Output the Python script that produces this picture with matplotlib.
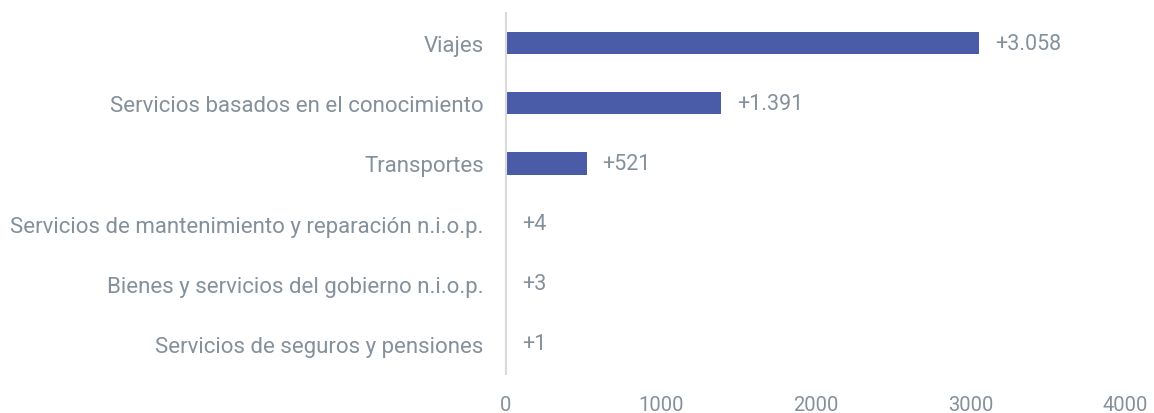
import numpy as np
import matplotlib.pyplot as plt

categorias = ["Viajes", "Servicios basados en el conocimiento", "Transportes",
              "Servicios de mantenimiento y reparación n.i.o.p.",
              "Bienes y servicios del gobierno n.i.o.p.",
              "Servicios de seguros y pensiones"]
valores = [3058, 1391, 521, 4, 3, 1]
etiquetas = ["+3.058", "+1.391", "+521", "+4", "+3", "+1"]
xticks = [0, 1000, 2000, 3000, 4000]

gris = "#84909b"
azul = "#4a5ba8"

plt.rcParams['font.family'] = ['Roboto', 'DejaVu Sans']

fig = plt.figure(figsize=(11.54, 4.14), dpi=100)
ax = fig.add_axes([0.4385, 0.094, 0.5365, 0.872])

y = np.arange(len(categorias))
ax.barh(y, valores, height=0.37, color=azul)
for yi, v, t in zip(y, valores, etiquetas):
    ax.text(v + 100, yi, t, va="center", ha="left", fontsize=15.5, color=gris)

ax.set_ylim(len(categorias) - 0.5, -0.5)
ax.set_xlim(0, 4000)
ax.set_yticks(y)
ax.set_yticklabels(categorias, fontsize=16, color=gris)
ax.set_xticks(xticks)
ax.set_xticklabels([str(t) for t in xticks], fontsize=14.5, color=gris)
ax.tick_params(axis="both", length=0)
ax.tick_params(axis="y", pad=16)
ax.tick_params(axis="x", pad=15)
for s in ["top", "right", "bottom"]:
    ax.spines[s].set_visible(False)
ax.spines["left"].set_color("#d9d9d9")
ax.spines["left"].set_linewidth(1.5)

fig.savefig("out.png", dpi=100)
